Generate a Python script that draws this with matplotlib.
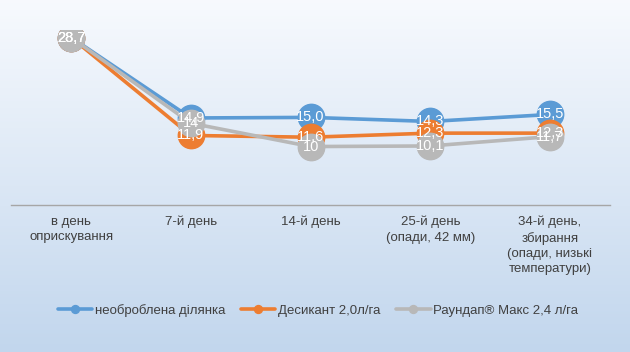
import numpy as np
import matplotlib.pyplot as plt

plt.rcParams['font.family'] = ['Liberation Sans Narrow', 'Liberation Sans', 'DejaVu Sans']

categories = ['в день\nоприскування', '7-й день', '14-й день',
              '25-й день\n(опади, 42 мм)',
              '34-й день,\nзбирання\n(опади, низькі\nтемператури)']
untreated = [28.7, 14.9, 15.0, 14.3, 15.5]
desiccant = [28.7, 11.9, 11.6, 12.3, 12.3]
roundup = [28.7, 14, 10, 10.1, 11.7]
untreated_lbl = ['28,7', '14,9', '15,0', '14,3', '15,5']
desiccant_lbl = ['28,7', '11,9', '11,6', '12,3', '12,3']
roundup_lbl = ['28,7', '14', '10', '10,1', '11,7']
names = ['необроблена ділянка', 'Десикант 2,0л/га', 'Раундап® Макс 2,4 л/га']
colors = ['#5b9bd5', '#ed7d31', '#b8b8b8']

fig = plt.figure(figsize=(6.3, 3.52), dpi=100)

# background gradient
bg = fig.add_axes([0, 0, 1, 1], zorder=-10)
grad = np.linspace(0, 1, 256).reshape(-1, 1)
top = np.array([0.97, 0.98, 0.995])
bot = np.array([0.76, 0.84, 0.93])
img = top + (bot - top) * grad[:, :, None]
bg.imshow(img, aspect='auto', extent=[0, 1, 0, 1])
bg.axis('off')

ax = fig.add_axes([0.018, 0.418, 0.95, 0.497])
ax.patch.set_alpha(0)
x = np.arange(len(categories))
series = [untreated, desiccant, roundup]
labels = [untreated_lbl, desiccant_lbl, roundup_lbl]
for vals, c, n in zip(series, colors, names):
    ax.plot(x, vals, color=c, lw=2.6, marker='o', ms=19, mec=c, mfc=c,
            label=n, solid_capstyle='round')
for vals, lbls in zip(series, labels):
    for xi, v, t in zip(x, vals, lbls):
        ax.text(xi, v, t, color='white', ha='center', va='center', fontsize=10.5)

ax.set_xlim(-0.5, 4.5)
ax.set_ylim(0, 30)
ax.set_yticks([])
ax.set_xticks(x)
ax.set_xticklabels(categories, fontsize=9.5, color='#404040', linespacing=1.35)
ax.tick_params(axis='x', length=0, pad=8)
for s in ['top', 'left', 'right']:
    ax.spines[s].set_visible(False)
ax.spines['bottom'].set_color('#a6a6a6')
ax.spines['bottom'].set_linewidth(1)

handles, lbls = ax.get_legend_handles_labels()
leg = fig.legend(handles, lbls, loc='center', bbox_to_anchor=(0.505, 0.118), ncol=3,
                 frameon=False, fontsize=9.5, handlelength=2.6, columnspacing=1.2,
                 handletextpad=0.2, markerscale=0.3, labelcolor='#404040')
for h in leg.legend_handles:
    h.set_linewidth(2.6)

fig.savefig('out.png', dpi=100)
